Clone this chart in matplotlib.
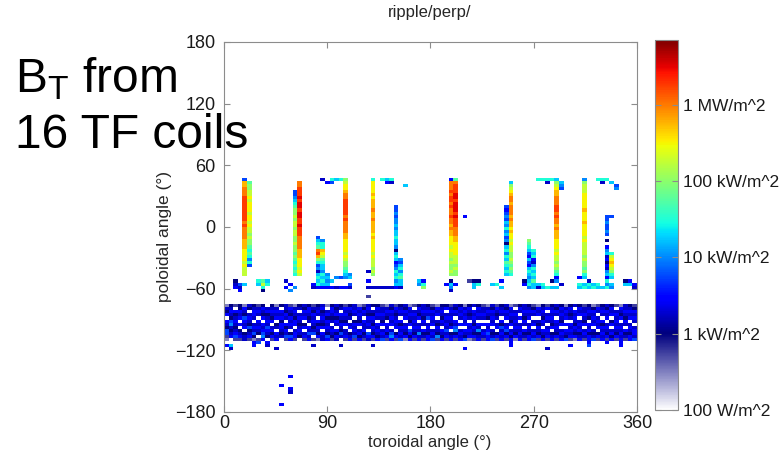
import numpy as np
import matplotlib
matplotlib.use("Agg")
import matplotlib.pyplot as plt
from matplotlib.colors import ListedColormap

plt.rcParams['font.family'] = ['Liberation Sans', 'DejaVu Sans']
plt.rcParams['mathtext.fontset'] = 'custom'
plt.rcParams['mathtext.rm'] = 'Liberation Sans'

# Heat flux map, one character per cell: '.' = no flux,
# '0'..'I' = log10(W/m^2) from 2.0 upward in steps of 0.25 decade
LEVELS = "0123456789ABCDEFGHI"
N_TOR = 90            # toroidal bins (4 deg)
POL_TOP = 48.0        # poloidal value at top edge of first row
POL_STEP = 3.0

# rows 0-40 (poloidal +48 .. -75), per toroidal bin, '|' every 10 rows
upper_cols = {
    2: "..........|..........|..........|...456",
    3: "..........|..........|..........|....756",
    4: "7FFGGGHHHH|HHHHGHGGGG|FFFEEEEDED|DD..9",
    5: ".BCCDDEDEE|EDEEDEDDCD|CCBABA8A7.",
    7: "..........|..........|..........|...A9",
    8: "..........|..........|..........|...BDA4",
    9: "..........|..........|..........|...9A",
    13: "..........|..........|..........|...5.6",
    14: "..........|..........|..........|....6.8",
    15: "....7789AB|CCDCDDCDDC|CDCCBCBABA|BA...8",
    16: ".GGHHHIHII|HIIHHIHHHG|GGGFFFEEED|ED",
    19: "..........|..........|..........|....65",
    20: "..........|.........7|9ABGHFCA78|59A9A6",
    21: "5.........|..........|8AAFEDBA99|8A9A96",
    22: ".6........|..........|..........|.89896",
    23: "A7........|..........|..........|...9.6",
    24: "9.........|..........|..........|..8..5",
    25: "A.........|..........|..........|..7..6",
    26: "CDEEFGGHHH|HHGHGGGGFF|EEEEDEDCCB|A98..6",
    27: "..........|..........|..........|.89.75",
    31: "..........|..........|..........|5..6.5..3",
    32: "AEEEEFEFFF|GFFGFFFFEF|EEEEDEDDDC|DC...5",
    33: "..........|..........|..........|.....5",
    34: "A.........|..........|..........|.....5",
    35: "96........|..........|..........|.....5",
    36: "A5........|..........|..........|.....5",
    37: ".........7|787889899A|99849A9678|A9A896",
    38: "..........|..........|......879A|8AB995",
    39: "..9",
    42: "..........|..........|..........|...98",
    43: "..........|..........|..........|...6AC",
    48: "..........|..........|..........|....6",
    49: "6GGGHGHHGH|GGHGGFGFFE|EEDEDDCDCC|DC.4985",
    50: "BGHHHIIHII|IHIHHHGGGF|FEEEEDDDCD|CC..6",
    52: "..........|..6",
    53: "..........|..........|..........|...3",
    54: "..........|..........|..........|...499",
    55: "..........|..........|..........|...4A",
    58: "..........|..........|..........|....9",
    59: "..........|..........|..........|....A",
    60: "..........|..........|..........|...6.9",
    61: ".........7|678798A897|849A8A9BA9|A9",
    62: ".9CDEFGGFG|GGFGFFEFEE|DEDDCCDCBC|BA",
    65: "..........|..........|..........|...46",
    66: "..........|..........|CBA9769769|A989A8",
    67: "..........|..........|...A9A658A|9A9B99",
    68: "A.........|..........|..........|....95",
    69: "A.........|..........|..........|....A9",
    70: "A5........|..........|..........|.....A",
    71: "A.........|..........|..........|...4.9",
    72: "9CDEFFGGGH|HGHGGFGFFF|EEEDEDDCDC|BA68.9",
    73: ".987......|..........|..........|....5",
    77: "..........|..........|..........|..6.A9",
    78: "8CDDDEEEEE|FEEEFEEEED|EDDDDCDCCB|CA9.9A",
    79: "..........|..........|..........|...5A9",
    80: "..........|..........|..........|....9A",
    81: "A.........|..........|..........|....A9",
    82: "A5........|..........|..........|.....9",
    83: "A.........|..7787787.|4.68956465|896A8A",
    84: ".9........|..7.......|....ADEFED|CA9.98",
    85: "..78",
    87: "..........|..........|..........|...49",
    88: "..........|..........|..........|...69",
    89: "..........|..........|..........|....65",
}

# rows 41-52 (poloidal -75 .. -111): the low-flux band, one string per toroidal bin
band_cols = [
    "2546.6547732", "45654785456.", "3.6456545673", "44656.6.4563", "26547656.455",
    "54.565474563", "45665.565742", "3565.65654.3", "46546.656786", ".5645657654.",
    "456546.56463", "25656.45.656", "4.656466545.", "55465.646573", "36546565.476",
    "2565466.5663", "45.56545654.", "54656.46.563", "466545.65756", "3546565457.3",
    "4565.6465462", "56456546.655", "2.5646565476", "466545.56543", "5456465.6465",
    "45.65465475.", "3656546.5563", "46545.56.456", "5565.4656573", "2656546.5646",
    "3465.6556453", "56546565.765", "4.5465465463", "46565.656546", "3556546.5657",
    "25654.656463", "5465656.5786", "36545656.463", "4565.6465657", "54656.565462",
    "2656546.7646", "3.5656565463", "46546.565856", "5565465.6453", "45657.565466",
    "3465656.5657", "2656.5465483", "4565465.6546", "46.565657563", "35656546.456",
    "5465.6578463", "46565.6.5656", "2565656.6547", "46545.656562", "5.6565465463",
    "46565.658456", "35565.6.5653", "25654.656766", "5465656.5457", "36545.56.463",
    "4565.6475656", "54656.567463", "2656546.5646", "3.5656565462", "465.6.565656",
    "5565465.6453", "45656.565466", "3465.56.5657", "2656.5465463", "4565465.6546",
    "36.565.56563", "45656546.456", "5465.6565463", "4656546.5656", "25656.6.6547",
    "46545.656563", "5.6565465462", "4656.5656456", "3556546.5653", "45654.656466",
    "2465656.5457", "365.5656.463", "4565.6465656", "54656.565463", "4656.46.5646",
    "3.5656565463", "26546.565656", "5565465.6453", "45656.565466", "346565.56657",
]

# rows 53-75 (poloidal -111 .. -180): scattered cells below the band
lower_cols = {
    0: ".6.", 1: ".95", 6: "66.", 7: "7..", 9: "65.", 11: "..5",
    12: "...|..........|.6.....6",
    14: "...|........6.|..65",
    19: ".5.", 25: ".5.", 32: ".5.", 52: "..6", 62: "66.", 70: "..5",
    75: ".6.", 79: "67.", 83: "6..", 86: "66.",
}

TOR_TICKS = [0, 90, 180, 270, 360]
POL_TICKS = [-180, -120, -60, 0, 60, 120, 180]
CB_TICKS = [2, 3, 4, 5, 6]
CB_LABELS = ['100 W/m^2', '1 kW/m^2', '10 kW/m^2', '100 kW/m^2', '1 MW/m^2']
VMIN, VMAX = 2.0, 6.85


def build_grid():
    n_rows = 41 + 12 + 23
    grid = np.full((n_rows, N_TOR), np.nan)
    for c in range(N_TOR):
        s = upper_cols.get(c, '').replace('|', '').ljust(41, '.')[:41]
        s += band_cols[c]
        s += lower_cols.get(c, '').replace('|', '').ljust(23, '.')[:23]
        for r, ch in enumerate(s):
            if ch != '.':
                grid[r, c] = 2.0 + 0.25 * LEVELS.index(ch)
    return np.ma.masked_invalid(grid)


def make_cmap():
    # white -> navy for the lowest decade, then jet
    n_low, n_jet = 100, 384
    low = np.column_stack([np.linspace(1, 0, n_low), np.linspace(1, 0, n_low),
                           np.linspace(1, 0.5, n_low), np.ones(n_low)])
    jet = plt.get_cmap('jet')(np.linspace(0, 1, n_jet))
    return ListedColormap(np.vstack([low, jet]))


grid = build_grid()
tor_edges = np.linspace(0, 360, N_TOR + 1)
pol_edges = POL_TOP - POL_STEP * np.arange(grid.shape[0] + 1)

fig = plt.figure(figsize=(7.83, 4.59), dpi=100)
ax = fig.add_axes([224 / 783, 1 - 412 / 459, 413 / 783, 370 / 459])
mesh = ax.pcolormesh(tor_edges, pol_edges, grid, cmap=make_cmap(),
                     vmin=VMIN, vmax=VMAX, shading='flat')
ax.set_xlim(0, 360)
ax.set_ylim(-180, 180)
ax.set_xticks(TOR_TICKS)
ax.set_yticks(POL_TICKS)
ax.tick_params(direction='in', top=True, right=True, length=4,
               color='#8c8c8c', labelsize=13, labelcolor='#1a1a1a')
ax.tick_params(axis='y', pad=6)
ax.tick_params(axis='x', pad=2)
for sp in ax.spines.values():
    sp.set_color('#8c8c8c')

fig.text(430 / 783, 1 - 12 / 459, 'ripple/perp/', ha='center', va='center',
         fontsize=12, color='#262626')
fig.text(430 / 783, 1 - 443 / 459, 'toroidal angle (°)', ha='center', va='center',
         fontsize=12, color='#262626')
fig.text(165 / 783, 1 - 236 / 459, 'poloidal angle (°)', ha='center', va='center',
         rotation=90, fontsize=12.5, color='#262626')

cax = fig.add_axes([655 / 783, 1 - 410 / 459, 23 / 783, 370 / 459])
cb = fig.colorbar(mesh, cax=cax, ticks=CB_TICKS)
cb.ax.set_yticklabels(CB_LABELS)
cb.outline.set_edgecolor('#8c8c8c')
cax.tick_params(direction='in', left=True, right=True, length=4,
                color='#8c8c8c', labelsize=12.5, labelcolor='#1a1a1a')

fig.text(15 / 783, 1 - 92 / 459, r'B$_\mathregular{T}$ from', fontsize=34.5,
         va='baseline', ha='left')
fig.text(15 / 783, 1 - 148 / 459, '16 TF coils', fontsize=34.5,
         va='baseline', ha='left')

fig.savefig('out.png', dpi=100)
